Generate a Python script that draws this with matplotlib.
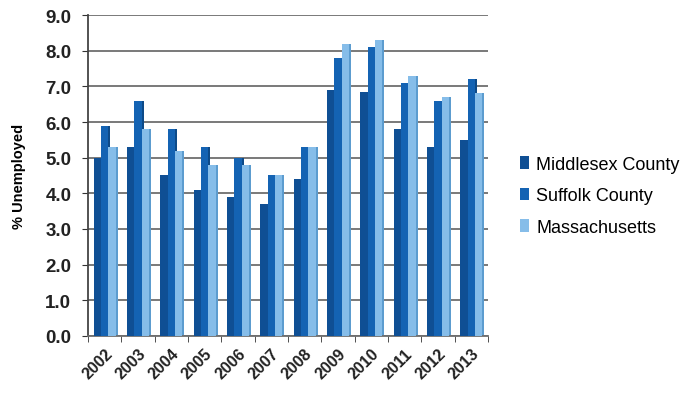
import numpy as np
import matplotlib.pyplot as plt

# Annual unemployment rate (%)
years = ['2002', '2003', '2004', '2005', '2006', '2007',
         '2008', '2009', '2010', '2011', '2012', '2013']
middlesex = [5.0, 5.3, 4.5, 4.1, 3.9, 3.7, 4.4, 6.9, 6.85, 5.8, 5.3, 5.5]
suffolk = [5.9, 6.6, 5.8, 5.3, 5.0, 4.5, 5.3, 7.8, 8.1, 7.1, 6.6, 7.2]
massachusetts = [5.3, 5.8, 5.2, 4.8, 4.8, 4.5, 5.3, 8.2, 8.3, 7.3, 6.7, 6.8]

series = [
    ('Middlesex County', middlesex, '#0f4f94', '#0a3b70'),
    ('Suffolk County', suffolk, '#1463b3', '#0d4a88'),
    ('Massachusetts', massachusetts, '#86bde9', '#5c9ccf'),
]

plt.rcParams['font.family'] = ['Liberation Sans', 'DejaVu Sans']

fig = plt.figure(figsize=(6.93, 4.02), dpi=100)
ax = fig.add_axes([0.127, 0.162, 0.577, 0.798])

x = np.arange(len(years))
w = 0.22
side = 0.06
for i, (name, vals, face, shade) in enumerate(series):
    pos = x + (i - 1) * w
    # darker strip on the right gives the columns some depth
    ax.bar(pos + w / 2 + side / 2, vals, width=side, color=shade, zorder=2)
    ax.bar(pos, vals, width=w, color=face, zorder=3, label=name)

ax.set_ylim(0, 9)
ax.set_xlim(-0.5, len(years) - 0.5)
ax.set_yticks(np.arange(0, 9.1, 1.0))
ax.set_yticklabels([f'{v:.1f}' for v in np.arange(0, 9.1, 1.0)],
                   fontsize=13.5, fontweight='bold', color='#222222')
ax.yaxis.grid(True, color='#6e6e6e', linewidth=1.3, zorder=0)
ax.set_axisbelow(True)

ax.set_xticks(x)
ax.set_xticklabels(years, rotation=45, ha='right', rotation_mode='anchor',
                   fontsize=11.5, fontweight='bold', color='#222222')
ax.set_xticks(np.arange(-0.5, len(years)), minor=True)
ax.tick_params(axis='x', which='major', length=0, pad=7)
ax.tick_params(axis='x', which='minor', length=4, color='#333333')
ax.tick_params(axis='y', length=4, color='#333333', pad=8)

ax.set_ylabel('% Unemployed', fontsize=10.5, fontweight='bold', labelpad=14)

for s in ['top', 'right']:
    ax.spines[s].set_visible(False)
ax.spines['left'].set_color('#444444')
ax.spines['left'].set_linewidth(1.3)
ax.spines['bottom'].set_color('#6e6e6e')
ax.spines['bottom'].set_linewidth(1.3)

handles, labels = ax.get_legend_handles_labels()
fig.legend(handles, labels, loc='center left', bbox_to_anchor=(0.727, 0.51),
           frameon=False, fontsize=13, handlelength=0.5, handleheight=0.7,
           handletextpad=0.4, labelspacing=0.8)

fig.savefig('out.png', dpi=100, facecolor='white')
